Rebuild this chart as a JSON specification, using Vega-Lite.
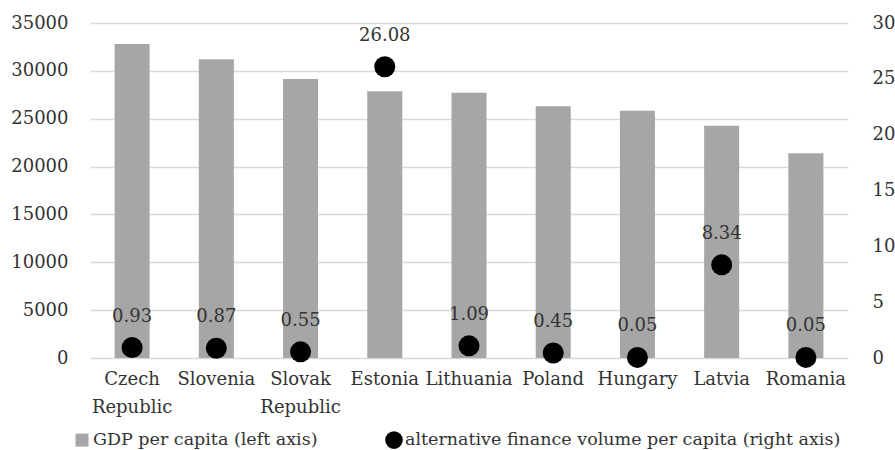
{
  "$schema": "https://vega.github.io/schema/vega-lite/v6.json",
  "autosize": "none",
  "width": 758,
  "height": 335,
  "padding": {"left": 90, "top": 23, "right": 47, "bottom": 92},
  "background": "white",
  "config": {
    "font": "DejaVu Serif",
    "view": {"stroke": null},
    "axis": {"labelFont": "DejaVu Serif", "labelFontSize": 18, "labelColor": "#333333", "domain": false, "ticks": false, "title": null},
    "legend": {"labelFont": "DejaVu Serif", "labelFontSize": 17.5, "labelColor": "#333333", "labelLimit": 0}
  },
  "data": {
    "values": [
      {"country": "Czech Republic", "gdp": 32800, "alt": 0.93},
      {"country": "Slovenia", "gdp": 31200, "alt": 0.87},
      {"country": "Slovak Republic", "gdp": 29140, "alt": 0.55},
      {"country": "Estonia", "gdp": 27860, "alt": 26.08},
      {"country": "Lithuania", "gdp": 27710, "alt": 1.09},
      {"country": "Poland", "gdp": 26290, "alt": 0.45},
      {"country": "Hungary", "gdp": 25830, "alt": 0.05},
      {"country": "Latvia", "gdp": 24260, "alt": 8.34},
      {"country": "Romania", "gdp": 21400, "alt": 0.05}
    ]
  },
  "encoding": {
    "x": {
      "field": "country",
      "type": "nominal",
      "sort": null,
      "scale": {"paddingInner": 0.584, "paddingOuter": 0.292},
      "axis": {
        "labelAngle": 0,
        "labelPadding": 12,
        "labelLineHeight": 28,
        "labelBaseline": "top",
        "grid": false,
        "labelExpr": "datum.value == 'Czech Republic' ? ['Czech', 'Republic'] : datum.value == 'Slovak Republic' ? ['Slovak', 'Republic'] : datum.value"
      }
    }
  },
  "layer": [
    {
      "mark": {"type": "bar"},
      "encoding": {
        "y": {
          "field": "gdp",
          "type": "quantitative",
          "scale": {"domain": [0, 35000], "nice": false},
          "axis": {"orient": "left", "values": [0, 5000, 10000, 15000, 20000, 25000, 30000, 35000], "format": "d", "labelPadding": 22, "grid": true, "gridColor": "#d9d9d9", "gridWidth": 1.5}
        },
        "color": {
          "datum": "GDP per capita (left axis)",
          "scale": {"domain": ["GDP per capita (left axis)", "alternative finance volume per capita (right axis)"], "range": ["#a6a6a6", "#000000"]},
          "legend": {
            "title": null,
            "orient": "none",
            "legendX": -17,
            "legendY": 408,
            "direction": "horizontal",
            "columns": 2,
            "columnPadding": 67,
            "labelOffset": 2,
            "padding": 0,
            "labelFont": "DejaVu Serif",
            "labelFontSize": 17.5,
            "labelLimit": 0,
            "symbolOpacity": 1,
            "symbolStrokeWidth": 0,
            "encode": {"labels": {"update": {"font": {"value": "DejaVu Serif"}, "fontSize": {"value": 17.5}}}}
          }
        }
      }
    },
    {
      "encoding": {
        "y": {
          "field": "alt",
          "type": "quantitative",
          "scale": {"domain": [0, 30], "nice": false},
          "axis": {"orient": "right", "values": [0, 5, 10, 15, 20, 25, 30], "labelPadding": 24, "grid": false}
        }
      },
      "layer": [
        {
          "mark": {"type": "point", "filled": true, "opacity": 0},
          "encoding": {
            "color": {"datum": "alternative finance volume per capita (right axis)"},
            "shape": {
              "datum": "alternative finance volume per capita (right axis)",
              "scale": {"domain": ["GDP per capita (left axis)", "alternative finance volume per capita (right axis)"], "range": ["square", "circle"]}
            },
            "size": {
              "datum": "alternative finance volume per capita (right axis)",
              "scale": {"domain": ["GDP per capita (left axis)", "alternative finance volume per capita (right axis)"], "range": [169, 310]}
            }
          }
        },
        {
          "mark": {"type": "point", "filled": true, "opacity": 1, "color": "#000000", "size": 441, "shape": "circle"},
          "encoding": {}
        },
        {
          "mark": {"type": "text", "dy": -31, "baseline": "middle", "fontSize": 18, "font": "DejaVu Serif", "color": "#333333"},
          "encoding": {
            "text": {"field": "alt", "type": "quantitative", "format": ".2f"}
          }
        }
      ]
    }
  ],
  "resolve": {"scale": {"y": "independent"}, "axis": {"y": "independent"}}
}
